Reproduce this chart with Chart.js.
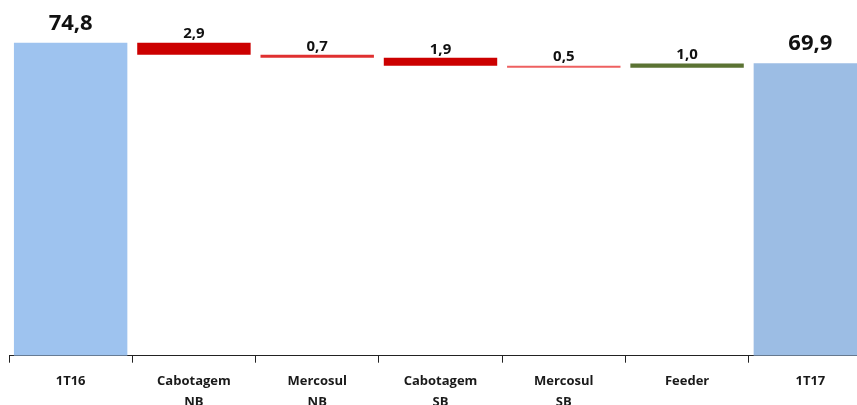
<!DOCTYPE html>
<html>
<head>
<meta charset="utf-8">
<script src="https://cdn.jsdelivr.net/npm/chart.js@4"></script>
<style>
  html, body { margin: 0; padding: 0; background: #fff; overflow: hidden; }
  #wrap { width: 872px; height: 421px; position: relative; }
</style>
</head>
<body>
<div id="wrap"><canvas id="chart"></canvas></div>
<script>
// Waterfall: start, changes, end
const categories = ['1T16', ['Cabotagem', 'NB'], ['Mercosul', 'NB'], ['Cabotagem', 'SB'], ['Mercosul', 'SB'], 'Feeder', '1T17'];
const startValue = 74.8;
const changes = [-2.9, -0.7, -1.9, -0.5, 1.0];
const endValue = 69.9;
const barColors = ['#9ec3ef', '#cc0000', '#e03030', '#cc0000', '#ee6060', '#5b7333', '#9cbde4'];

// build floating ranges
const ranges = [[0, startValue]];
let level = startValue;
changes.forEach(c => {
    ranges.push([level, level + c]);
    level += c;
});
ranges.push([0, endValue]);
const labelTexts = [startValue, ...changes.map(Math.abs), endValue].map(v => v.toFixed(1).replace('.', ','));

const valueLabels = {
    id: 'valueLabels',
    afterDatasetsDraw(chart) {
        const ctx = chart.ctx;
        const meta = chart.getDatasetMeta(0);
        ctx.save();
        ctx.textAlign = 'center';
        ctx.textBaseline = 'bottom';
        ctx.fillStyle = '#111';
        meta.data.forEach((bar, i) => {
            const big = (i === 0 || i === meta.data.length - 1);
            ctx.font = big ? 'bold 22px "Open Sans", sans-serif' : 'bold 15px "Open Sans", sans-serif';
            const top = Math.min(bar.y, bar.base);
            ctx.fillText(labelTexts[i], bar.x, top - (big ? 8 : 1));
        });
        ctx.restore();
    }
};

new Chart(document.getElementById('chart'), {
    type: 'bar',
    data: {
        labels: categories,
        datasets: [{
            data: ranges,
            backgroundColor: barColors,
            barPercentage: 0.92,
            categoryPercentage: 1.0,
            borderSkipped: false
        }]
    },
    plugins: [valueLabels],
    options: {
        responsive: true,
        maintainAspectRatio: false,
        animation: false,
        layout: { padding: { left: 9, top: 0, right: 0, bottom: 0 } },
        plugins: {
            legend: { display: false },
            tooltip: { enabled: false }
        },
        scales: {
            x: {
                grid: {
                    offset: true,
                    drawOnChartArea: false,
                    tickLength: 7,
                    color: '#222'
                },
                border: { display: true, color: '#222', width: 1 },
                ticks: {
                    color: '#1a1a1a',
                    padding: 9,
                    maxRotation: 0,
                    font: { family: '"Open Sans", sans-serif', size: 13, weight: 'bold', lineHeight: 1.55 }
                }
            },
            y: {
                display: false,
                min: 0,
                max: 85
            }
        }
    }
});
</script>
</body>
</html>
